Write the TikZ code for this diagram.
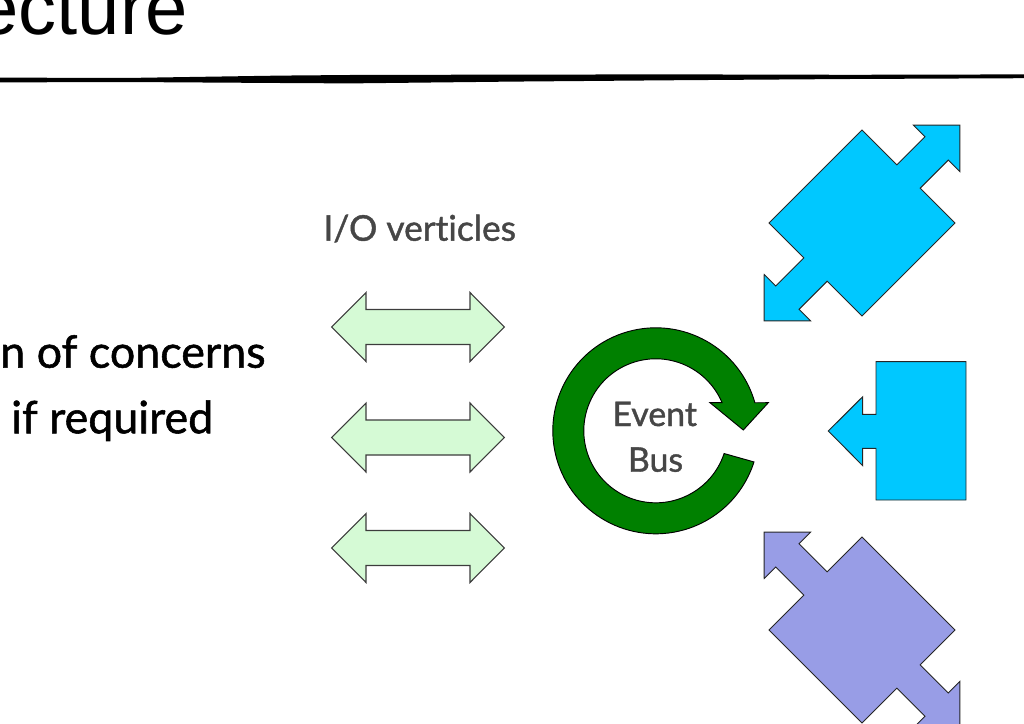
\documentclass[tikz,border=0pt]{standalone}
\usepackage{fontspec}
\setmainfont{Lato}[FakeBold=1.2, Ligatures=NoCommon]
\newfontfamily\titlefont{Liberation Sans}
\definecolor{arrowgreen}{RGB}{213,250,213}
\definecolor{edgegray}{RGB}{60,60,60}
\definecolor{busgreen}{RGB}{0,128,0}
\definecolor{cyanbox}{RGB}{0,200,255}
\definecolor{lilacbox}{RGB}{152,157,230}
\definecolor{labelgray}{RGB}{70,70,70}
\tikzset{
  ioarrow/.style={fill=arrowgreen, draw=edgegray, line width=0.8pt, line join=miter},
  busring/.style={fill=busgreen, draw=black, line width=0.7pt, line join=miter},
  unitshape/.style={draw=black!85, line width=0.7pt, line join=miter},
  label/.style={inner sep=0pt, text=labelgray},
  bodytext/.style={inner sep=0pt, text=black, font=\fontsize{33.6}{40}\selectfont},
}
\begin{document}
\begin{tikzpicture}[x=0.75pt,y=0.75pt]
\useasboundingbox (0,0) rectangle (1024,-724);
% title
\node[inner sep=0pt, anchor=base east, font=\titlefont\fontsize{57}{60}\selectfont] (title) at (188,-35) {ecture};
% brush rule
\fill[black] (0,-77.6) -- (125,-78) -- (280,-75.6) -- (350,-75) -- (512,-74.6) -- (680,-74.4)
  -- (850,-74.8) -- (1024,-74.4) -- (1024,-78.2) -- (850,-79) -- (680,-80.2) -- (512,-81.6)
  -- (350,-83.4) -- (280,-83) -- (125,-82) -- (0,-82.4) -- cycle;
% left body text
\node[bodytext, anchor=base west] (concerns) at (0,-367.7) {n of concerns};
\node[bodytext, anchor=base west] (required) at (11,-433.3) {if required};
% I/O label
\node[label, anchor=base, font=\fontsize{26.5}{30}\selectfont] (io) at (419.7,-240.7) {I/O verticles};
% I/O double arrows
\foreach \yc in {-327,-437.5,-548}{
  \draw[ioarrow] (331.7,\yc) -- (366,\yc+34.5) -- (366,\yc+17.5) -- (470,\yc+17.5)
    -- (470,\yc+34.5) -- (504.3,\yc) -- (470,\yc-34.5) -- (470,\yc-17.5)
    -- (366,\yc-17.5) -- (366,\yc-34.5) -- cycle;
}
% event bus ring
\coordinate (c) at (655.8,-430.8);
\draw[busring] ([shift={(15.8:103)}]c) arc[start angle=15.8, end angle=342.4, radius=103]
  -- ([shift={(341.6:72)}]c) arc[start angle=341.6, end angle=23.0, radius=72]
  -- (710,-402.7) -- (743.3,-430) -- (768.3,-402.7) -- cycle;
\node[label, anchor=base, font=\fontsize{25.4}{30}\selectfont] (event) at (654.7,-426) {Event};
\node[label, anchor=base, font=\fontsize{25.4}{30}\selectfont] (bus) at (655.5,-471.7) {Bus};
% top unit
\begin{scope}[shift={(862,-223)}, rotate=45]
\draw[unitshape, fill=cyanbox] (65.8,-65.8) -- (65.8,-16.5) -- (105.5,-16.5) -- (105.5,-32.8) -- (138.5,0)
  -- (105.5,32.8) -- (105.5,16.5) -- (65.8,16.5) -- (65.8,65.8) -- (-65.8,65.8) -- (-65.8,16.5)
  -- (-105.5,16.5) -- (-105.5,32.8) -- (-138.5,0) -- (-105.5,-32.8) -- (-105.5,-16.5)
  -- (-65.8,-16.5) -- (-65.8,-65.8) -- cycle;
\end{scope}
% middle unit
\draw[unitshape, fill=cyanbox] (876,-361.7) -- (966,-361.7) -- (966,-500) -- (876,-500) -- (876,-448.3)
  -- (862.7,-448.3) -- (862.7,-465.7) -- (828.3,-431) -- (862.7,-396.7) -- (862.7,-414.3)
  -- (876,-414.3) -- cycle;
% bottom unit
\begin{scope}[shift={(862,-630)}, rotate=-45]
\draw[unitshape, fill=lilacbox] (65.8,-65.8) -- (65.8,-16.5) -- (105.5,-16.5) -- (105.5,-32.8) -- (138.5,0)
  -- (105.5,32.8) -- (105.5,16.5) -- (65.8,16.5) -- (65.8,65.8) -- (-65.8,65.8) -- (-65.8,16.5)
  -- (-105.5,16.5) -- (-105.5,32.8) -- (-138.5,0) -- (-105.5,-32.8) -- (-105.5,-16.5)
  -- (-65.8,-16.5) -- (-65.8,-65.8) -- cycle;
\end{scope}
\end{tikzpicture}
\end{document}
